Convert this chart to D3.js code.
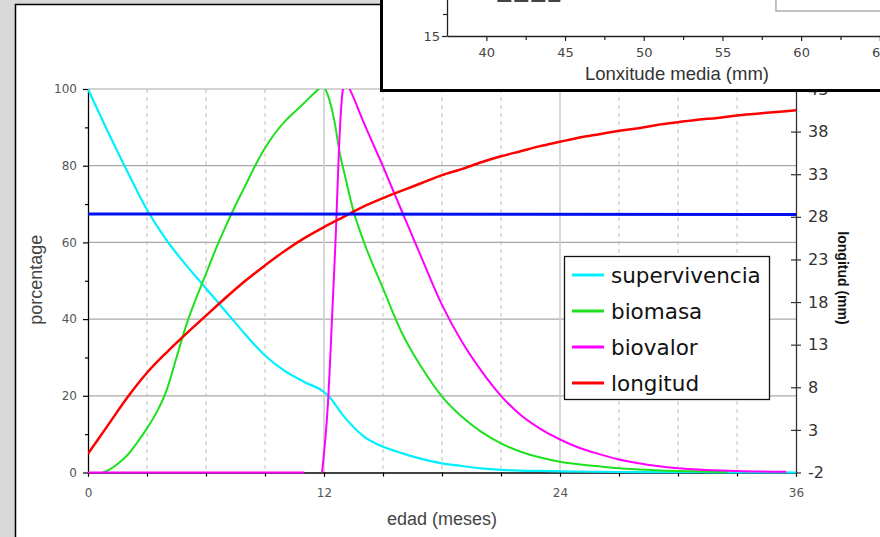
<!DOCTYPE html>
<html lang="es">
<head>
<meta charset="UTF-8">
<title>Supervivencia, biomasa, biovalor y longitud</title>
<script src="https://d3js.org/d3.v7.min.js"></script>
<style>
  html, body { margin: 0; padding: 0; background: #d9d9d9; }
  svg { display: block; }
  .tick text { font-family: "DejaVu Sans", sans-serif; }
</style>
</head>
<body>
<svg id="chart" width="880" height="537"></svg>
<script>
// ---- data ----
// supervivencia (%)
const survMeses   = [0, 1, 2, 3, 4, 5, 6, 7, 8, 9, 10, 11, 12, 12.25, 13, 14, 15, 16, 17, 18, 19, 20, 21, 22, 23, 24, 28, 32, 36];
const survValores = [100, 89, 78.5, 68.5, 60.5, 54, 48, 42, 36, 30.5, 26.5, 23.6, 21, 19.8, 14.7, 9.5, 6.7, 5, 3.5, 2.4, 1.7, 1.1, 0.7, 0.5, 0.4, 0.3, 0.1, 0.05, 0];

// biomasa (%)
const bioMeses   = [0.75, 1, 1.5, 2, 2.5, 3, 3.5, 4, 4.5, 5, 5.5, 6, 6.5, 7, 7.5, 8, 8.5, 9, 9.5, 10, 10.5, 11, 11.5, 11.95, 12.1, 12.5, 12.85, 13, 13.5, 14, 15, 16, 17, 18, 19, 20, 21, 22, 23, 24, 26, 27, 28, 30, 32.5];
const bioValores = [0, 0.5, 2.2, 4.5, 7.8, 11.5, 15.8, 21.5, 30, 38.5, 45.5, 51.8, 58.3, 64.2, 69.7, 74.8, 80, 84.6, 88.4, 91.5, 94, 96.4, 98.9, 100.6, 99.6, 92.4, 82, 78.8, 68.2, 60.5, 48, 36, 27.1, 19.8, 14.6, 10.6, 7.6, 5.4, 3.9, 2.8, 1.6, 1.1, 0.8, 0.4, 0.1];

// biovalor (%) -- null marks the gap before month 12
const bvMeses   = [0, 11, 11.5, 11.9, 12.2, 12.45, 12.6, 12.75, 12.95, 13.1, 13.35, 14, 15, 16, 17, 18, 19, 20, 21, 22, 23, 24, 25, 26, 27, 28, 30, 33, 35.5];
const bvValores = [0, 0, null, 0, 18, 45, 62, 83, 99.5, 102, 99.5, 91.5, 79.8, 67.6, 55.5, 43.7, 34.2, 26.5, 20, 15, 11.4, 8.6, 6.4, 4.8, 3.4, 2.4, 1.1, 0.4, 0.2];

// longitud (mm, right axis)
const lonMeses   = [0, 1, 2, 3, 4, 5, 6, 7, 8, 9, 10, 11, 12, 13, 14, 15, 16, 17, 18, 19, 20, 21, 22, 23, 24, 25, 26, 27, 28, 29, 30, 31, 32, 33, 34, 35, 36];
const lonValores = [0.2, 3.5, 6.8, 9.7, 12.1, 14.3, 16.4, 18.5, 20.5, 22.3, 24.0, 25.5, 26.8, 28, 29.2, 30.2, 31.1, 32, 32.9, 33.6, 34.4, 35.1, 35.7, 36.3, 36.8, 37.3, 37.7, 38.1, 38.4, 38.8, 39.1, 39.4, 39.6, 39.9, 40.1, 40.3, 40.5];

// horizontal blue level (%)
const nivelMeses   = [0, 36];
const nivelValores = [67.4, 67.3];

// ticks
const xTicks      = [0, 12, 24, 36];
const xMinorTicks = d3.range(0, 37, 3);
const yTicks      = [0, 20, 40, 60, 80, 100];
const yMinorTicks = [10, 30, 50, 70, 90];
const yRTicks     = [-2, 3, 8, 13, 18, 23, 28, 33, 38, 43];

// inset (partly hidden window)
const insetXTicks      = [40, 45, 50, 55, 60, 65];
const insetXMinorTicks = [42.5, 47.5, 52.5, 57.5, 62.5];
const insetYTicks      = [15];
const insetYMinorTicks = [17.5];

const series = [
  { name: "supervivencia", color: "#00f0ff", width: 2.2, m: survMeses, v: survValores, axis: "L" },
  { name: "biomasa",       color: "#1ee01e", width: 2,   m: bioMeses,  v: bioValores,  axis: "L" },
  { name: "biovalor",      color: "#ff00ff", width: 2,   m: bvMeses,   v: bvValores,   axis: "L" },
  { name: "longitud",      color: "#ff0000", width: 2.5, m: lonMeses,  v: lonValores,  axis: "R" }
];

const svg = d3.select("#chart");

// background / window frame
svg.append("rect").attr("width", 880).attr("height", 537).attr("fill", "#d9d9d9");
svg.append("rect").attr("x", 15.5).attr("y", 4.5).attr("width", 900).attr("height", 560)
  .attr("fill", "#fff").attr("stroke", "#000").attr("stroke-width", 1.5);

const x  = d3.scaleLinear().domain([0, 36]).range([88, 796]);
const yL = d3.scaleLinear().domain([0, 100]).range([472.5, 89]);
const yR = d3.scaleLinear().domain([-2, 43]).range([472.5, 89]);

// grid
svg.append("g").selectAll("line").data(yTicks.filter(d => d > 0)).join("line")
  .attr("x1", x(0)).attr("x2", x(36)).attr("y1", d => yL(d)).attr("y2", d => yL(d))
  .attr("stroke", "#a8a8a8").attr("stroke-width", 1.2);

svg.append("g").selectAll("line").data(xMinorTicks.filter(d => d > 0 && d < 36)).join("line")
  .attr("x1", d => x(d)).attr("x2", d => x(d)).attr("y1", yL(100)).attr("y2", yL(0))
  .attr("stroke", d => d % 12 === 0 ? "#cfcfcf" : "#bdbdbd")
  .attr("stroke-width", d => d % 12 === 0 ? 1.6 : 1)
  .attr("stroke-dasharray", d => d % 12 === 0 ? null : "4,4");

// axes
function styleAxis(g, color) {
  g.select(".domain").attr("stroke", color).attr("stroke-width", 1.3);
  g.selectAll(".tick line").attr("stroke", color).attr("stroke-width", 1.2);
}

const gL = svg.append("g").attr("transform", `translate(${x(0)},0)`)
  .call(d3.axisLeft(yL).tickValues(yTicks).tickSize(5).tickSizeOuter(0).tickPadding(6));
gL.selectAll("text").attr("font-size", 12).attr("fill", "#555");
styleAxis(gL, "#000");
const gLm = svg.append("g").attr("transform", `translate(${x(0)},0)`)
  .call(d3.axisLeft(yL).tickValues(yMinorTicks).tickSize(3).tickFormat(""));
gLm.select(".domain").remove();
styleAxis(gLm, "#000");

const gXm = svg.append("g").attr("transform", `translate(0,${yL(0)})`)
  .call(d3.axisBottom(x).tickValues(xMinorTicks).tickSize(4).tickSizeOuter(0).tickFormat(""));
styleAxis(gXm, "#000");
gXm.select(".domain").attr("stroke-width", 1.6);
const gX = svg.append("g").attr("transform", `translate(0,${yL(0)})`)
  .call(d3.axisBottom(x).tickValues(xTicks).tickSize(4).tickPadding(12));
gX.select(".domain").remove();
gX.selectAll(".tick line").attr("stroke", "#000");
gX.selectAll("text").attr("font-size", 12).attr("fill", "#555");

const gR = svg.append("g").attr("transform", `translate(${x(36)},0)`)
  .call(d3.axisRight(yR).tickValues(yRTicks).tickSize(5).tickSizeOuter(0).tickPadding(7)
    .tickFormat(d => String(d)));
gR.selectAll("text").attr("font-size", 16).attr("fill", "#333")
  .attr("font-family", "'Liberation Sans', Arial, sans-serif");
styleAxis(gR, "#333");
const gRl = svg.append("g").attr("transform", `translate(${x(36)},0)`)
  .call(d3.axisLeft(yR).tickValues(yRTicks).tickSize(5).tickFormat(""));
gRl.select(".domain").remove();
styleAxis(gRl, "#333");

// axis titles
svg.append("text").attr("x", (x(0) + x(36)) / 2).attr("y", 525)
  .attr("text-anchor", "middle").attr("font-family", "'Liberation Sans', Arial, sans-serif")
  .attr("font-size", 18).attr("fill", "#444").text("edad (meses)");
svg.append("text").attr("transform", `translate(42,${(yL(0) + yL(100)) / 2 - 1}) rotate(-90)`)
  .attr("text-anchor", "middle").attr("font-family", "'Liberation Sans', Arial, sans-serif")
  .attr("font-size", 18).attr("fill", "#444").text("porcentage");
svg.append("text").attr("transform", `translate(838,278) rotate(90)`)
  .attr("text-anchor", "middle").attr("font-family", "'Liberation Sans', Arial, sans-serif")
  .attr("font-size", 14).attr("font-weight", "bold").attr("fill", "#111").text("longitud (mm)");

// curves
svg.append("clipPath").attr("id", "plotClip").append("rect")
  .attr("x", x(0)).attr("y", yL(100)).attr("width", x(36) - x(0)).attr("height", yL(0) - yL(100) + 3);
const plot = svg.append("g").attr("clip-path", "url(#plotClip)");

series.forEach(s => {
  const yS = s.axis === "R" ? yR : yL;
  const pts = s.m.map((m, i) => [m, s.v[i]]);
  const line = d3.line().defined(d => d[1] !== null).curve(d3.curveMonotoneX)
    .x(d => x(d[0])).y(d => yS(d[1]));
  plot.append("path").datum(pts).attr("d", line)
    .attr("fill", "none").attr("stroke", s.color).attr("stroke-width", s.width)
    .attr("stroke-linejoin", "round");
});

plot.append("path").datum(nivelMeses.map((m, i) => [m, nivelValores[i]]))
  .attr("d", d3.line().x(d => x(d[0])).y(d => yL(d[1])))
  .attr("fill", "none").attr("stroke", "#0010f0").attr("stroke-width", 3);

// legend
const legend = svg.append("g").attr("transform", "translate(564,256)");
legend.append("rect").attr("x", 0.5).attr("y", 0.5).attr("width", 205).attr("height", 143)
  .attr("fill", "#fff").attr("stroke", "#111").attr("stroke-width", 1.3);
const items = legend.selectAll("g.item").data(series).join("g").attr("class", "item")
  .attr("transform", (d, i) => `translate(0,${19 + i * 36})`);
items.append("line").attr("x1", 8).attr("x2", 40).attr("y1", 0).attr("y2", 0)
  .attr("stroke", d => d.color).attr("stroke-width", 3);
items.append("text").attr("x", 47).attr("y", 8)
  .attr("font-family", "'DejaVu Sans', sans-serif").attr("font-size", 21.5).attr("fill", "#111")
  .text(d => d.name);

// inset window (another chart overlapping on top)
const inset = svg.append("g");
inset.append("rect").attr("x", 381.5).attr("y", -4).attr("width", 520).attr("height", 94.5)
  .attr("fill", "#fff").attr("stroke", "#000").attr("stroke-width", 3);

const ix = d3.scaleLinear().domain([37.5, 65.5]).range([447, 887.7]);
const iy = d3.scaleLinear().domain([15, 20]).range([36, -8]);

inset.append("rect").attr("x", ix(58.4)).attr("y", -20).attr("width", 200).attr("height", 31)
  .attr("fill", "none").attr("stroke", "#999").attr("stroke-width", 1.2);
inset.append("line").attr("x1", ix(40.7)).attr("x2", ix(45.1)).attr("y1", 0.5).attr("y2", 0.5)
  .attr("stroke", "#444").attr("stroke-width", 3).attr("stroke-dasharray", "14,3,14,3,14,3,12,10");

const giX = inset.append("g").attr("transform", `translate(0,${iy(15)})`)
  .call(d3.axisBottom(ix).tickValues(insetXTicks).tickSize(5).tickSizeOuter(0).tickPadding(7)
    .tickFormat(d3.format("d")));
giX.selectAll("text").attr("font-size", 13).attr("fill", "#444")
  .attr("font-family", "'Liberation Sans', Arial, sans-serif");
styleAxis(giX, "#222");
const giXm = inset.append("g").attr("transform", `translate(0,${iy(15)})`)
  .call(d3.axisBottom(ix).tickValues(insetXMinorTicks).tickSize(4).tickFormat(""));
giXm.select(".domain").remove();
styleAxis(giXm, "#222");

const giY = inset.append("g").attr("transform", `translate(${ix(37.5)},0)`)
  .call(d3.axisLeft(iy).tickValues(insetYTicks).tickSize(5).tickSizeOuter(0).tickPadding(2)
    .tickFormat(d3.format("d")));
giY.selectAll("text").attr("font-size", 13).attr("fill", "#444")
  .attr("font-family", "'Liberation Sans', Arial, sans-serif");
styleAxis(giY, "#222");
const giYm = inset.append("g").attr("transform", `translate(${ix(37.5)},0)`)
  .call(d3.axisLeft(iy).tickValues(insetYMinorTicks).tickSize(4).tickFormat(""));
giYm.select(".domain").remove();
styleAxis(giYm, "#222");

inset.append("text").attr("x", 677).attr("y", 80).attr("text-anchor", "middle")
  .attr("font-family", "'Liberation Sans', Arial, sans-serif").attr("font-size", 18.5)
  .attr("fill", "#333").text("Lonxitude media (mm)");
</script>
</body>
</html>
